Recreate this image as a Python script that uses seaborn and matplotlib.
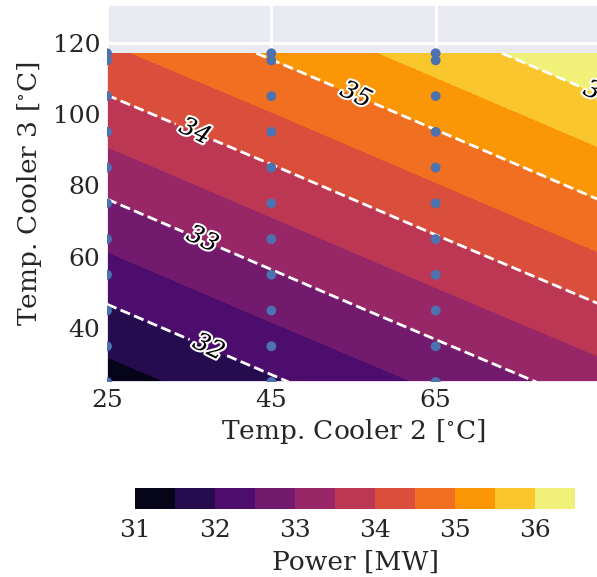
import numpy as np
import pandas as pd
import matplotlib
matplotlib.use("Agg")
import matplotlib.pyplot as plt
import matplotlib.patheffects as pe
import seaborn as sns

# ---- data ----
cooler2_grid = [25, 45, 65, 85]
cooler3_grid = [25, 45, 65, 85, 105, 117]
power_grid = [
    [31.26, 31.93, 32.59, 33.26],
    [31.94, 32.61, 33.28, 33.94],
    [32.62, 33.29, 33.96, 34.63],
    [33.30, 33.97, 34.64, 35.31],
    [33.99, 34.65, 35.32, 35.99],
    [34.40, 35.06, 35.73, 36.40],
]
sample_cooler2 = [25, 45, 65]
sample_cooler3 = [25, 35, 45, 55, 65, 75, 85, 95, 105, 115, 117]
fill_levels = [31.0, 31.5, 32.0, 32.5, 33.0, 33.5, 34.0, 34.5, 35.0, 35.5, 36.0, 36.5]
line_levels = [32, 33, 34, 35, 36]
cbar_ticks = [31, 32, 33, 34, 35, 36]
label_spots = [(37.5, 35.3), (36.7, 65.3), (35.8, 95.5), (55.4, 105.8), (85.0, 106.0)]

sns.set_theme(style="darkgrid", rc={"grid.linewidth": 2.0})
plt.rcParams["font.family"] = ["DejaVu Serif"]
plt.rcParams["mathtext.fontset"] = "dejavuserif"

fig = plt.figure(figsize=(5.97, 5.77), dpi=100)
ax = fig.add_axes([107 / 597, 195 / 577, 493 / 597, 377 / 577])
cax = fig.add_axes([135 / 597, 68 / 577, 440 / 597, 21 / 577])

X, Y = np.meshgrid(cooler2_grid, cooler3_grid)
Z = np.array(power_grid)
cf = ax.contourf(X, Y, Z, levels=fill_levels, cmap="inferno")
cs = ax.contour(X, Y, Z, levels=line_levels, colors="white", linestyles="--", linewidths=2.0)
labels = ax.clabel(cs, fmt="%d", fontsize=18, inline=True, colors="black", manual=label_spots)
for t in labels:
    t.set_fontstyle("italic")
    t.set_path_effects([pe.withStroke(linewidth=3, foreground="white")])

pts = pd.DataFrame(
    [(a, b) for a in sample_cooler2 for b in sample_cooler3],
    columns=["c2", "c3"],
)
sns.scatterplot(data=pts, x="c2", y="c3", ax=ax, s=50, color="#4c72b0", edgecolor="none", zorder=5)

ax.set_xlim(25, 85)
ax.set_ylim(25, 130.5)
ax.set_xticks([25, 45, 65])
ax.set_yticks([40, 60, 80, 100, 120])
ax.tick_params(labelsize=18, length=0, pad=5)
ax.set_xlabel("Temp. Cooler 2 [$^{\\circ}$C]", fontsize=19, labelpad=4)
ax.set_ylabel("Temp. Cooler 3 [$^{\\circ}$C]", fontsize=19, labelpad=6)

cb = fig.colorbar(cf, cax=cax, orientation="horizontal", ticks=cbar_ticks)
cb.outline.set_visible(False)
cb.ax.tick_params(labelsize=18, length=0, pad=7)
cb.set_label("Power [MW]", fontsize=19, labelpad=6)

fig.savefig("out.png", dpi=100)
